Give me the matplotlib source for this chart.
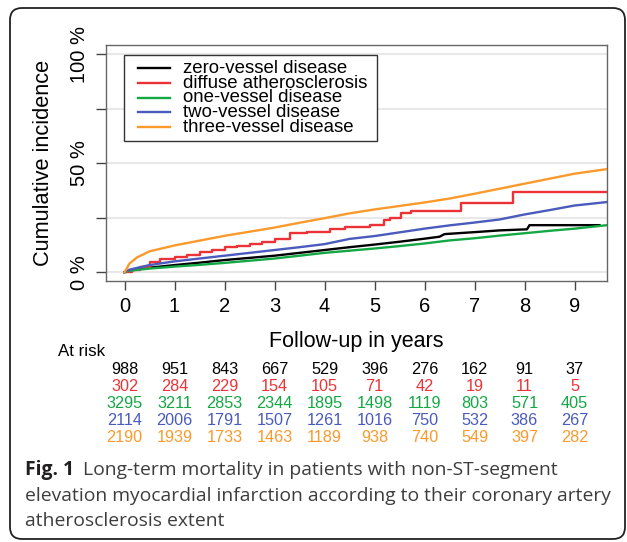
import matplotlib
matplotlib.use('Agg')
import matplotlib.pyplot as plt
import matplotlib.patches as mpatches
import matplotlib.transforms as mtrans
from matplotlib.lines import Line2D

# curves (years, cumulative incidence in %)
t_grid = [0, 0.1, 0.25, 0.5, 1, 1.5, 2, 2.5, 3, 3.5, 4, 4.5, 5, 5.5, 6, 6.5, 7, 7.5, 8, 8.5, 9, 9.65]
one_vessel = [0, 0.7, 1.1, 1.7, 2.6, 3.4, 4.3, 5.3, 6.3, 7.6, 8.9, 9.9, 10.9, 12.0, 13.2, 14.6, 15.6, 16.8, 17.9, 19.0, 20.0, 21.6]
two_vessel = [0, 1.2, 2.0, 3.3, 5.0, 6.3, 7.6, 8.9, 10.2, 11.5, 12.9, 15.3, 16.6, 18.3, 20.0, 21.5, 22.8, 24.2, 26.5, 28.5, 30.6, 32.2]
three_vessel = [0, 4.0, 6.8, 9.6, 12.3, 14.5, 16.7, 18.6, 20.5, 22.7, 24.8, 27.0, 28.8, 30.4, 32.0, 33.8, 36.0, 38.3, 40.6, 42.9, 45.2, 47.3]

zero_t = [0, 0.1, 0.25, 0.5, 1, 1.5, 2, 2.5, 3, 3.5, 4, 4.5, 5, 5.5, 6, 6.3, 6.4, 7, 7.5, 8.05, 8.1, 9.5]
zero_vessel = [0, 0.8, 1.3, 2.1, 3.3, 4.4, 5.6, 6.6, 7.6, 8.9, 10.2, 11.5, 12.7, 14.0, 15.4, 16.3, 17.5, 18.4, 19.2, 19.7, 21.6, 21.6]

diffuse_t = [0, 0.15, 0.3, 0.5, 0.7, 1.0, 1.25, 1.5, 1.75, 2.0, 2.25, 2.5, 2.75, 3.0, 3.3, 3.65,
             4.1, 4.4, 4.9, 5.19, 5.3, 5.53, 5.73, 6.72, 7.77, 9.65]
diffuse = [0, 1.0, 2.5, 4.8, 6.0, 7.0, 8.0, 9.2, 10.3, 11.5, 12.0, 13.0, 13.8, 15.2, 17.8, 18.3,
           19.7, 20.6, 21.7, 23.9, 25.0, 27.0, 28.3, 31.7, 37.0, 37.0]

labels = ['zero-vessel disease', 'diffuse atherosclerosis', 'one-vessel disease',
          'two-vessel disease', 'three-vessel disease']
colors = ['#000000', '#EC3237', '#14A845', '#4A5BBD', '#FB9A2C']

years = [0, 1, 2, 3, 4, 5, 6, 7, 8, 9]
risk_zero = [988, 951, 843, 667, 529, 396, 276, 162, 91, 37]
risk_diffuse = [302, 284, 229, 154, 105, 71, 42, 19, 11, 5]
risk_one = [3295, 3211, 2853, 2344, 1895, 1498, 1119, 803, 571, 405]
risk_two = [2114, 2006, 1791, 1507, 1261, 1016, 750, 532, 386, 267]
risk_three = [2190, 1939, 1733, 1463, 1189, 938, 740, 549, 397, 282]

W, H = 627, 542
def fx(x):
    return x / W
def fy(y):
    return 1 - y / H

plt.rcParams['font.family'] = ['Liberation Sans', 'DejaVu Sans']

fig = plt.figure(figsize=(W / 100, H / 100), dpi=100)
ax = fig.add_axes([fx(106), fy(281), 501 / W, 236 / H])

lw = 1.7
ax.plot(zero_t, zero_vessel, color=colors[0], lw=lw, zorder=3)
ax.plot(diffuse_t, diffuse, color=colors[1], lw=lw, drawstyle='steps-post', zorder=3)
ax.plot(t_grid, one_vessel, color=colors[2], lw=lw, zorder=3)
ax.plot(t_grid, two_vessel, color=colors[3], lw=lw, zorder=3)
ax.plot(t_grid, three_vessel, color=colors[4], lw=lw, zorder=3)

ax.set_xlim(-0.37, 9.65)
ax.set_ylim(-4, 104.2)
ax.set_xticks(years)
ax.set_xticklabels([str(y) for y in years], fontsize=14.5)
ax.set_yticks([0, 25, 50, 75, 100])
ax.set_yticklabels(['0 %', '', '50 %', '', '100 %'], rotation=90, va='center', ha='right', fontsize=14.5)
ax.tick_params(axis='x', length=6.5, width=1, color='#444444', pad=5)
ax.tick_params(axis='y', length=7, width=1, color='#444444', pad=5)
ax.yaxis.grid(True, color='#e8e8e8', lw=1.5)
ax.set_axisbelow(True)
for s in ax.spines.values():
    s.set_color('#666666')
    s.set_linewidth(1)

fig.text(fx(44), fy(163), 'Cumulative incidence', rotation=90, ha='center', va='center', fontsize=15.7)
fig.text(fx(356), fy(341), 'Follow-up in years', ha='center', va='center', fontsize=15.5)

# legend box
leg = mpatches.Rectangle((fx(124), fy(141)), (377 - 124) / W, (141 - 55) / H,
                         transform=fig.transFigure, facecolor='white', edgecolor='#333333', lw=1)
fig.patches.append(leg)
row_y = [68.3, 83, 97.7, 112.3, 127]
for lab, col, ry in zip(labels, colors, row_y):
    fig.lines.append(Line2D([fx(138), fx(170)], [fy(ry), fy(ry)], transform=fig.transFigure,
                            color=col, lw=lw))
    fig.text(fx(183), fy(ry), lab, ha='left', va='center', fontsize=13.4)

# numbers at risk
fig.text(fx(58), fy(352), 'At risk', ha='left', va='center', fontsize=12.2)
trans = mtrans.blended_transform_factory(ax.transData, fig.transFigure)
risk_rows = [risk_zero, risk_diffuse, risk_one, risk_two, risk_three]
risk_y = [369.3, 386.7, 403.3, 420.7, 437.3]
for row, col, ry in zip(risk_rows, colors, risk_y):
    for yr, n in zip(years, row):
        ax.text(yr, fy(ry), str(n), transform=trans, ha='center', va='center',
                fontsize=11.7, color=col, clip_on=False)

# caption
cap_font = ['Open Sans', 'DejaVu Sans']
cap_size = 13.9
fig.text(fx(25), fy(470), 'Fig. 1', family=cap_font, fontweight='bold', fontsize=cap_size,
         color='#231f20', ha='left', va='center')
fig.text(fx(83), fy(470), 'Long-term mortality in patients with non-ST-segment',
         family=cap_font, fontsize=cap_size, color='#3d3d3d', ha='left', va='center')
fig.text(fx(25), fy(496), 'elevation myocardial infarction according to their coronary artery',
         family=cap_font, fontsize=cap_size, color='#3d3d3d', ha='left', va='center')
fig.text(fx(25), fy(521), 'atherosclerosis extent',
         family=cap_font, fontsize=cap_size, color='#3d3d3d', ha='left', va='center')

# rounded frame around the whole figure
frame = mpatches.FancyBboxPatch((10, H - 539), 615, 531, boxstyle='round,pad=0,rounding_size=12',
                                transform=mtrans.IdentityTransform(), fill=False,
                                edgecolor='#222222', lw=1.3)
fig.patches.append(frame)

fig.savefig('out.png', dpi=100)
